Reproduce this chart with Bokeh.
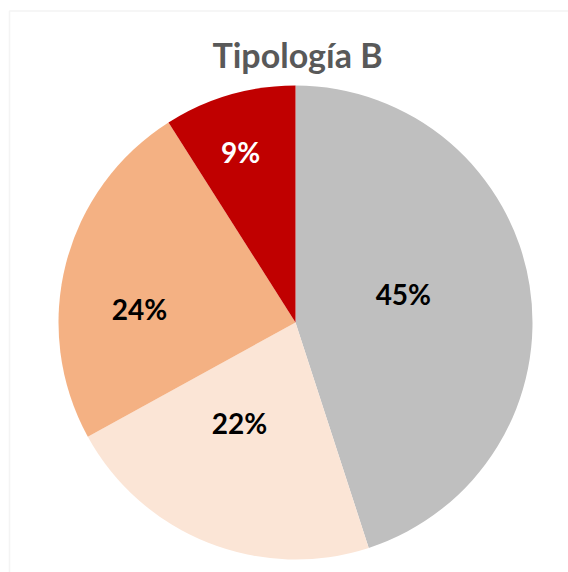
import math
from bokeh.plotting import figure
from bokeh.models import Range1d, BoxAnnotation, ColumnDataSource
from bokeh.core.properties import value
from bokeh.embed import file_html
from bokeh.resources import INLINE

# ---- data ----
title_text = "Tipología B"
categories = ["A", "B", "C", "D"]
shares = [45, 22, 24, 9]
slice_colors = ["#BFBFBF", "#FBE5D6", "#F4B183", "#C00000"]
label_colors = ["#000000", "#000000", "#000000", "#FFFFFF"]

# ---- layout / style ----
W, H = 568, 572
CX, CY, R = 295, 250, 237
LABEL_R = [0.47, 0.49, 0.66, 0.75]      # label radius as fraction of R
LABEL_DA = [-5.5, 7.3, -10.0, -1.8]     # angular tweak (deg) of label position
FONT = "Lato"

p = figure(width=W, height=H, output_backend="svg", toolbar_location=None,
           x_range=Range1d(0, W), y_range=Range1d(0, H), min_border=0)
p.axis.visible = False
p.grid.visible = False
p.outline_line_color = None
p.background_fill_color = "white"
p.border_fill_color = "white"

total = float(sum(shares))
starts, ends, lx, ly, texts = [], [], [], [], []
cum = 0.0
for i, s in enumerate(shares):
    a0 = math.pi / 2 - 2 * math.pi * cum / total
    cum += s
    a1 = math.pi / 2 - 2 * math.pi * cum / total
    starts.append(a0)
    ends.append(a1)
    mid_cw = 360.0 * (cum - s / 2) / total + LABEL_DA[i]  # clockwise from top, deg
    rr = LABEL_R[i] * R
    lx.append(CX + rr * math.sin(math.radians(mid_cw)))
    ly.append(CY + rr * math.cos(math.radians(mid_cw)))
    texts.append(f"{s}%")

src = ColumnDataSource(dict(start=starts, end=ends, color=slice_colors,
                            lx=lx, ly=ly, text=texts, tcolor=label_colors))

p.wedge(x=CX, y=CY, radius=R, start_angle="start", end_angle="end",
        direction="clock", fill_color="color", line_color=None, source=src)

p.text(x="lx", y="ly", text="text", source=src, text_color="tcolor",
       text_font=value(FONT), text_font_style="bold", text_font_size="28px",
       text_align="center", text_baseline="alphabetic", y_offset=-1)

p.text(x=[297], y=[518], text=[title_text], text_color="#595959",
       text_font=value(FONT), text_font_style="bold", text_font_size="34px",
       text_align="center", text_baseline="alphabetic")

p.add_layout(BoxAnnotation(left=9, right=W + 50, top=H - 10.5, bottom=-50,
                           fill_alpha=0, line_color="#D9D9D9", line_width=1.5))

open("out.html", "w").write(file_html(p, INLINE))
